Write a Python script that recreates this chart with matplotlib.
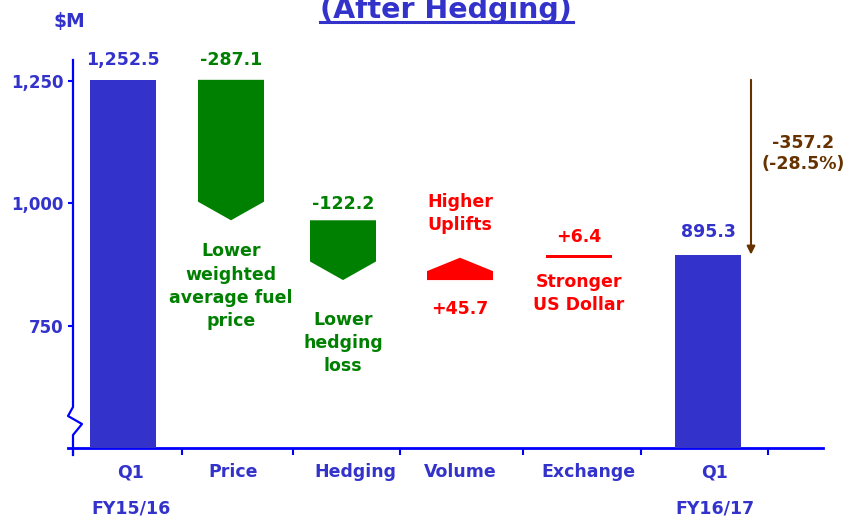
#!/usr/bin/env python3
"""Waterfall chart: Q1 FY15/16 -> Q1 FY16/17, $M (after hedging)."""

import matplotlib
matplotlib.use("Agg")

import matplotlib.pyplot as plt
from matplotlib.lines import Line2D
from matplotlib.patches import Polygon

# ---- data -------------------------------------------------------------
categories = ["Q1\nFY15/16", "Price", "Hedging", "Volume", "Exchange", "Q1\nFY16/17"]
start_value = 1252.5
end_value = 895.3
deltas = [-287.1, -122.2, 45.7, 6.4]
notes = ["Lower\nweighted\naverage fuel\nprice", "Lower\nhedging\nloss",
         "Higher\nUplifts", "Stronger\nUS Dollar"]
y_ticks = [750, 1000, 1250]
y_tick_labels = ["750", "1,000", "1,250"]

# ---- layout (x units are pixels of the 851 px wide canvas) -------------
W, H = 851, 521
X0, X1 = 73, 823          # axes left/right
Y_TOP, Y_BOT = 60, 448    # axes top/bottom
slot_x = [123, 231, 343, 460, 579, 708]
label_x = [131, 233, 355, 460, 588, 715]
bounds_x = [73, 182, 293, 400, 523, 641, 768]
bar_w = 66
# label offsets in px (positive = above top of mark, negative = below bottom)
value_dy = [20, 16, -29, 18]
note_dy = [-66, -63, 44, -36]

BLUE = "#3333CC"
AXIS = "#0000FF"
GREEN = "#008000"
RED = "#FF0000"
BROWN = "#663300"
PT = 0.72  # points per pixel at dpi 100

plt.rcParams["font.family"] = ["DejaVu Sans"]
plt.rcParams["font.weight"] = "bold"


def fig_xy(x, y):
    return x / W, 1 - y / H


def main() -> None:
    fig = plt.figure(figsize=(W / 100, H / 100), dpi=100)
    l, b = fig_xy(X0, Y_BOT)
    r, t = fig_xy(X1, Y_TOP)
    ax = fig.add_axes([l, b, r - l, t - b])
    ax.set_xlim(X0, X1)
    ax.set_ylim(500, 1293)
    for s in ax.spines.values():
        s.set_visible(False)

    # end bars
    ax.bar([slot_x[0], slot_x[-1]], [start_value - 500, end_value - 500], bottom=500,
           width=bar_w, color=BLUE, zorder=3)
    for x, v in ((slot_x[0], start_value), (slot_x[-1], end_value)):
        ax.annotate(f"{v:,.1f}", xy=(x, v), xytext=(0, (20 if v == start_value else 23) * PT),
                    textcoords="offset points", ha="center", va="center",
                    color=BLUE, fontsize=12.5, fontweight="bold")

    # step arrows
    level = start_value
    for i, d in enumerate(deltas):
        x = slot_x[i + 1]
        new = level + d
        lo, hi = min(level, new), max(level, new)
        color = GREEN if d < 0 else RED
        if abs(d) < 15:
            ax.bar(x, hi - lo, bottom=lo, width=bar_w, color=color, zorder=3)
        else:
            head = min(38, 0.6 * abs(d))
            hw = bar_w / 2
            if d < 0:
                pts = [(x - hw, level), (x + hw, level), (x + hw, new + head),
                       (x, new), (x - hw, new + head)]
            else:
                pts = [(x - hw, level), (x + hw, level), (x + hw, new - head),
                       (x, new), (x - hw, new - head)]
            ax.add_patch(Polygon(pts, closed=True, color=color, zorder=3, lw=0))
        for txt, dy in ((f"{d:+.1f}", value_dy[i]), (notes[i], note_dy[i])):
            anchor = hi if dy > 0 else lo
            ax.annotate(txt, xy=(x, anchor), xytext=(0, dy * PT), textcoords="offset points",
                        ha="center", va="center", color=color, fontsize=12.5,
                        fontweight="bold", linespacing=1.38)
        level = new

    # total change arrow
    change = end_value - start_value
    ax.annotate("", xy=(751, end_value), xytext=(751, start_value),
                arrowprops=dict(arrowstyle="-|>", color=BROWN, lw=1.5, mutation_scale=12,
                                shrinkA=0, shrinkB=0))
    ax.annotate(f"{change:.1f}\n({change / start_value * 100:.1f}%)",
                xy=(751, (start_value + end_value) / 2), xytext=(52 * PT, 14 * PT),
                textcoords="offset points", ha="center", va="center", color=BROWN,
                fontsize=12.5, fontweight="bold", linespacing=1.2)

    # axes: y ticks
    ax.set_yticks(y_ticks, y_tick_labels)
    ax.tick_params(axis="y", direction="out", length=5 * PT, width=1.5, color=AXIS,
                   labelcolor=BLUE, labelsize=12, pad=3)
    # x ticks at slot boundaries, labels at category centres
    ax.set_xticks(bounds_x, [""] * len(bounds_x))
    ax.set_xticks(label_x, categories, minor=True)
    ax.tick_params(axis="x", which="major", direction="out", length=5, width=1.5, color=AXIS)
    ax.tick_params(axis="x", which="minor", length=0, pad=11, labelcolor=BLUE, labelsize=12.5)
    for lbl in ax.get_xticklabels(minor=True):
        lbl.set_fontweight("bold")
        lbl.set_linespacing(2.3)
    for lbl in ax.get_yticklabels():
        lbl.set_fontweight("bold")

    # hand-drawn spines with axis break
    def axp(px, py):
        return (px - X0) / (X1 - X0), (Y_BOT - py) / (Y_BOT - Y_TOP)

    ys = [Y_TOP, 407, 416, 424, 435, Y_BOT + 7]
    xs = [73, 73, 68, 82, 73, 73]
    pts = [axp(a, c) for a, c in zip(xs, ys)]
    ax.add_line(Line2D([p[0] for p in pts], [p[1] for p in pts], transform=ax.transAxes,
                       color=AXIS, lw=1.6, clip_on=False))
    p0, p1 = axp(68, Y_BOT), axp(X1, Y_BOT)
    ax.add_line(Line2D([p0[0], p1[0]], [p0[1], p1[1]], transform=ax.transAxes,
                       color=AXIS, lw=2.0, clip_on=False))

    # title (clipped at the top edge, as in the original slide) and unit label
    tx, ty = fig_xy(446, 18)
    fig.text(tx, ty, "(After Hedging)", ha="center", va="baseline", color=BLUE,
             fontsize=20.5, fontweight="bold")
    u0, uy = fig_xy(320, 22)
    u1, _ = fig_xy(573, 22)
    fig.add_artist(Line2D([u0, u1], [uy, uy], color=BLUE, lw=2.2))
    mx, my = fig_xy(69, 21)
    fig.text(mx, my, "$M", ha="center", va="center", color=BLUE, fontsize=13.5,
             fontweight="bold")

    fig.savefig("out.png", dpi=100)
    plt.close(fig)


if __name__ == "__main__":
    main()
